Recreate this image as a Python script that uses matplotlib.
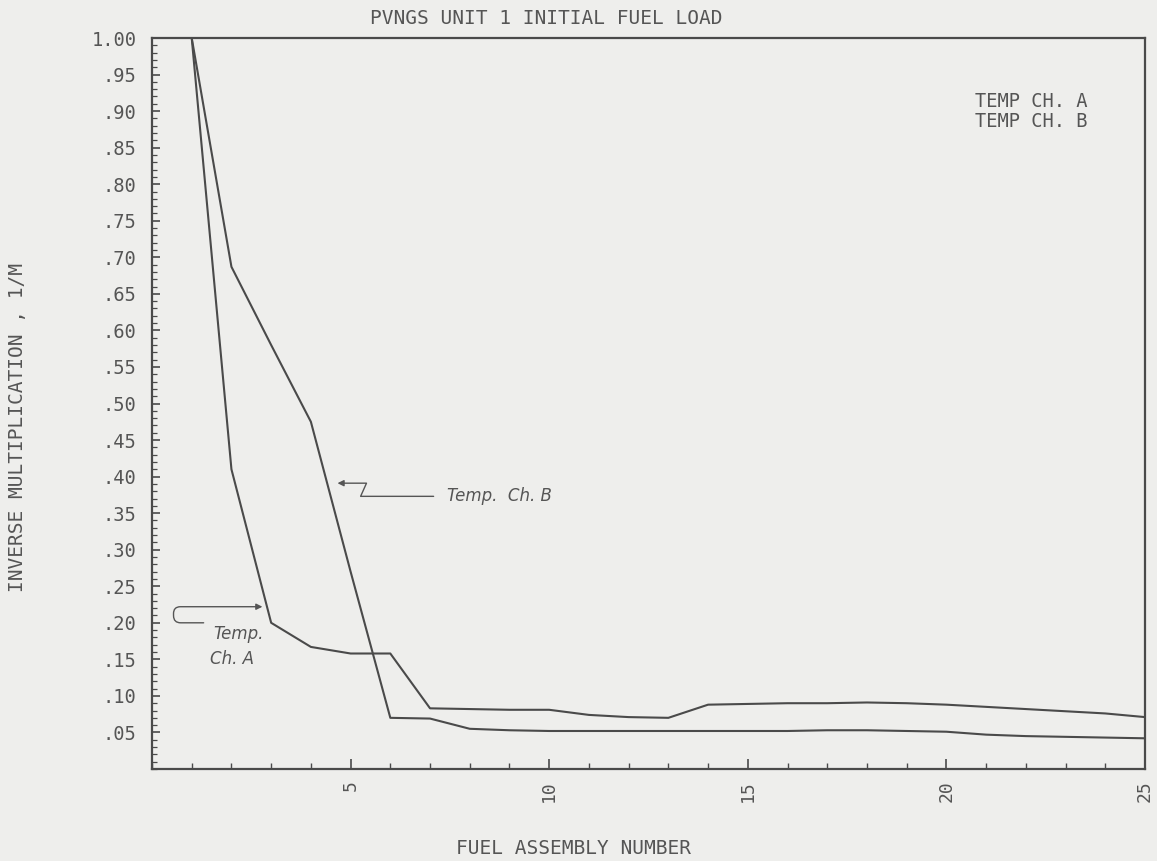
import matplotlib
matplotlib.use("Agg")
import matplotlib.pyplot as plt
from matplotlib.ticker import MultipleLocator, FixedLocator, FixedFormatter

# ---- data ----
assembly = list(range(1, 26))
temp_ch_a = [1.00, 0.41, 0.20, 0.167, 0.158, 0.158, 0.083, 0.082, 0.081, 0.081,
             0.074, 0.071, 0.070, 0.088, 0.089, 0.090, 0.090, 0.091, 0.090, 0.088,
             0.085, 0.082, 0.079, 0.076, 0.071]
temp_ch_b = [1.00, 0.687, 0.58, 0.475, 0.27, 0.070, 0.069, 0.055, 0.053, 0.052,
             0.052, 0.052, 0.052, 0.052, 0.052, 0.052, 0.053, 0.053, 0.052, 0.051,
             0.047, 0.045, 0.044, 0.043, 0.042]
series_labels = ["TEMP CH. A", "TEMP CH. B"]
x_ticks = [5, 10, 15, 20, 25]
x_tick_labels = ["5", "10", "15", "20", "25"]
y_ticks = [0.05, 0.10, 0.15, 0.20, 0.25, 0.30, 0.35, 0.40, 0.45, 0.50,
           0.55, 0.60, 0.65, 0.70, 0.75, 0.80, 0.85, 0.90, 0.95, 1.00]
y_tick_labels = [".05", ".10", ".15", ".20", ".25", ".30", ".35", ".40", ".45", ".50",
                 ".55", ".60", ".65", ".70", ".75", ".80", ".85", ".90", ".95", "1.00"]

BG = "#eeeeec"
INK = "#4a4a4a"
TXT = "#555555"
MONO = "DejaVu Sans Mono"

W, H = 1157, 861
fig = plt.figure(figsize=(W / 100, H / 100), dpi=100, facecolor=BG)
ax = fig.add_axes([152 / W, 1 - 769 / H, (1145 - 152) / W, (769 - 38) / H], facecolor=BG)

la, = ax.plot(assembly, temp_ch_a, color=INK, lw=1.5, label=series_labels[0])
lb, = ax.plot(assembly, temp_ch_b, color=INK, lw=1.5, label=series_labels[1])

ax.set_xlim(0, 25)
ax.set_ylim(0, 1.0)

ax.xaxis.set_major_locator(FixedLocator(x_ticks))
ax.xaxis.set_major_formatter(FixedFormatter(x_tick_labels))
ax.xaxis.set_minor_locator(MultipleLocator(1))
ax.yaxis.set_major_locator(FixedLocator(y_ticks))
ax.yaxis.set_major_formatter(FixedFormatter(y_tick_labels))
ax.yaxis.set_minor_locator(MultipleLocator(0.01))

ax.tick_params(axis="both", which="both", direction="in", color=INK,
               labelcolor=TXT, top=False, right=False)
ax.tick_params(axis="x", which="major", length=7, width=1.2, pad=8,
               labelrotation=90, labelsize=13)
ax.tick_params(axis="x", which="minor", length=4, width=1.0)
ax.tick_params(axis="y", which="major", length=6, width=1.2, pad=11, labelsize=13.5)
ax.tick_params(axis="y", which="minor", length=3.5, width=0.9)
for lab in ax.get_xticklabels() + ax.get_yticklabels():
    lab.set_family(MONO)

for sp in ax.spines.values():
    sp.set_color(INK)
    sp.set_linewidth(1.6)

# titles and axis labels
fig.text(546 / W, 1 - 18 / H, "PVNGS UNIT 1 INITIAL FUEL LOAD", ha="center", va="center",
         family=MONO, fontsize=14, color=TXT)
fig.text(574 / W, 1 - 848 / H, "FUEL ASSEMBLY NUMBER", ha="center", va="center",
         family=MONO, fontsize=14, color=TXT)
fig.text(18 / W, 1 - 427 / H, "INVERSE MULTIPLICATION , 1/M", ha="center", va="center",
         rotation=90, family=MONO, fontsize=14, color=TXT)

# legend (text only, as in the reference)
leg = ax.legend(handles=[la, lb], loc="upper left",
                bbox_to_anchor=((975 - 152) / 993, (769 - 92) / 731),
                frameon=False, handlelength=0, handletextpad=0, borderpad=0,
                borderaxespad=0, labelspacing=0.05,
                prop={"family": MONO, "size": 13.5})
for h in leg.legend_handles:
    h.set_visible(False)
for t in leg.get_texts():
    t.set_color(TXT)

# handwritten annotations
hand = dict(fontstyle="italic", color=TXT, fontsize=12, family="DejaVu Sans")
ax.text(7.42, 0.373, "Temp.  Ch. B", va="center", ha="left", **hand)
ax.annotate("", xy=(4.67, 0.391), xytext=(7.09, 0.373),
            arrowprops=dict(arrowstyle="-|>", color=TXT, lw=1.0,
                            connectionstyle="arc,angleA=180,angleB=0,armA=73,armB=29,rad=0",
                            shrinkA=0, shrinkB=0, mutation_scale=9))
ax.text(1.55, 0.185, "Temp.", va="center", ha="left", **hand)
ax.text(1.45, 0.150, "Ch. A", va="center", ha="left", **hand)
ax.annotate("", xy=(2.78, 0.222), xytext=(1.30, 0.200),
            arrowprops=dict(arrowstyle="-|>", color=TXT, lw=1.0,
                            connectionstyle="arc,angleA=180,angleB=180,armA=30,armB=89,rad=7",
                            shrinkA=0, shrinkB=0, mutation_scale=9))

fig.savefig("out.png", dpi=100, facecolor=BG)
